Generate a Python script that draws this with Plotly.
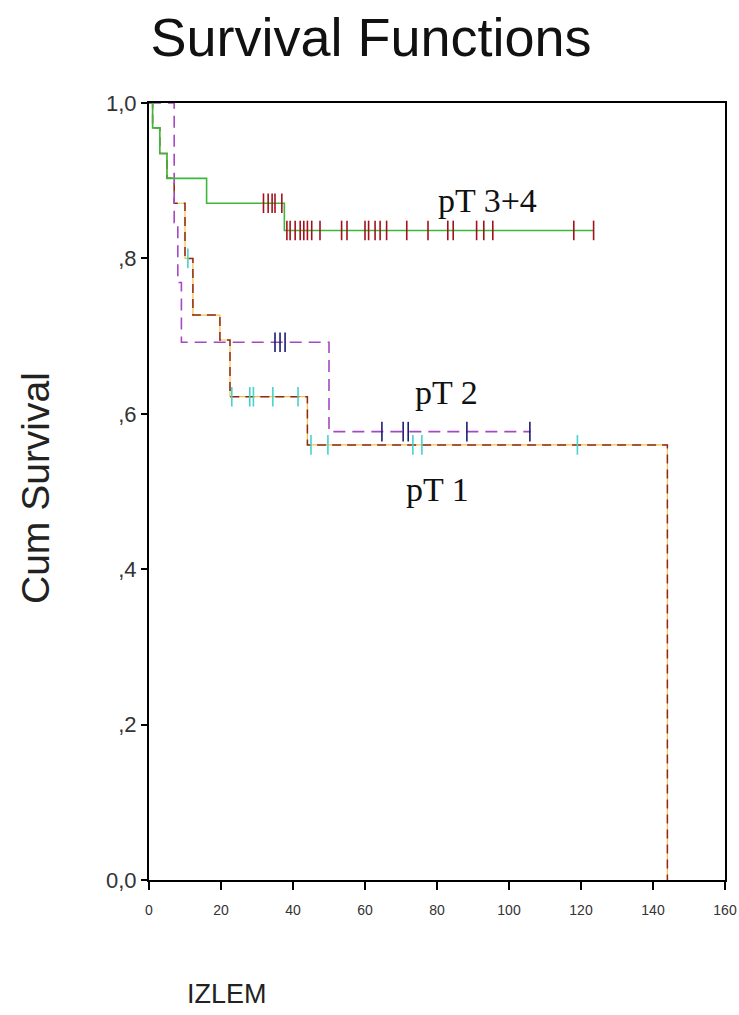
import plotly.graph_objects as go

# ---- data ----
# pT 3+4 (green solid, red censor marks)
t34_time = [0, 1, 3, 5, 16, 37.6, 123.5]
t34_surv = [1.0, 0.968, 0.935, 0.903, 0.871, 0.836, 0.836]
t34_cens_a_time = [31.8, 33.1, 34.2, 35.0, 36.9]
t34_cens_b_time = [38.3, 39.2, 40.6, 42, 43, 44, 45.2, 47.5, 53.5, 55, 60, 61,
                   62.8, 64.2, 66, 71.6, 77.5, 83, 84.5, 91, 93, 95.5, 118, 123.5]

# pT 2 (purple dashed, navy censor marks)
t2_time = [0, 7, 8, 9, 50, 106]
t2_surv = [1.0, 0.846, 0.769, 0.692, 0.577, 0.577]
t2_cens_a_time = [35, 36.4, 37.8]
t2_cens_b_time = [64.7, 70.6, 72, 88.3, 105.8]

# pT 1 (orange/brown dashed, cyan censor marks)
t1_time = [0, 1, 3, 5, 7, 10, 12.2, 19.7, 22.5, 44.0, 144, 144]
t1_surv = [1.0, 0.968, 0.935, 0.903, 0.871, 0.80, 0.727, 0.695, 0.622, 0.56, 0.0, 0.0]
t1_cens_a_time = [10.8]
t1_cens_b_time = [23, 28, 29, 34.4, 41.4]
t1_cens_c_time = [45.0, 49.7, 73.3, 75.8, 119]

y_tickvals = [0, 0.2, 0.4, 0.6, 0.8, 1.0]
y_ticktext = ["0,0", ",2", ",4", ",6", ",8", "1,0"]
x_tickvals = [0, 20, 40, 60, 80, 100, 120, 140, 160]

GREEN = "#3cb83c"
RED = "#a3121c"
PURPLE = "#a548c4"
NAVY = "#1d1d6e"
ORANGE = "#f0c24a"
BROWN = "#8e2a1a"
CYAN = "#45d3d0"

fig = go.Figure()

def cens(times, level, color):
    fig.add_trace(go.Scatter(
        x=times, y=[level] * len(times), mode="markers",
        marker=dict(symbol="line-ns", size=14, line=dict(width=1.6, color=color)),
        hoverinfo="skip", showlegend=False))

# pT 1
fig.add_trace(go.Scatter(x=t1_time, y=t1_surv, mode="lines", line_shape="hv",
                         line=dict(color=ORANGE, width=1.2), showlegend=False))
fig.add_trace(go.Scatter(x=t1_time, y=t1_surv, mode="lines", line_shape="hv",
                         line=dict(color=BROWN, width=1.5, dash="9px,6px"), showlegend=False))
# pT 2
fig.add_trace(go.Scatter(x=t2_time, y=t2_surv, mode="lines", line_shape="hv",
                         line=dict(color=PURPLE, width=1.6, dash="12px,7px"), showlegend=False))
# pT 3+4
fig.add_trace(go.Scatter(x=t34_time, y=t34_surv, mode="lines", line_shape="hv",
                         line=dict(color=GREEN, width=1.6), showlegend=False))

cens(t1_cens_a_time, t1_surv[5], CYAN)
cens(t1_cens_b_time, t1_surv[8], CYAN)
cens(t1_cens_c_time, t1_surv[9], CYAN)
cens(t2_cens_a_time, t2_surv[3], NAVY)
cens(t2_cens_b_time, t2_surv[4], NAVY)
cens(t34_cens_a_time, t34_surv[4], RED)
cens(t34_cens_b_time, t34_surv[5], RED)

serif = dict(family="Liberation Serif, Times New Roman, serif", size=34, color="#111")
fig.add_annotation(x=93.9, y=0.875, text="pT 3+4", showarrow=False, font=serif)
fig.add_annotation(x=82.5, y=0.628, text="pT 2", showarrow=False, font=serif)
fig.add_annotation(x=80, y=0.502, text="pT 1", showarrow=False, font=serif)

sans = "Liberation Sans, Arial, sans-serif"
# plot area: x 149..725, y 103..880 (576 x 777 px)
fig.add_annotation(xref="paper", yref="paper", x=(35 - 149) / 576, y=(880 - 488) / 777,
                   text="Cum Survival", textangle=-90, showarrow=False,
                   xanchor="center", yanchor="middle",
                   font=dict(family=sans, size=39, color="#222"))
fig.add_annotation(xref="paper", yref="paper", x=(185 - 149) / 576, y=(880 - 994) / 777,
                   text="IZLEM", showarrow=False, xanchor="left", yanchor="middle",
                   font=dict(family=sans, size=27, color="#222"))

fig.update_layout(
    width=739, height=1015,
    margin=dict(l=149, r=14, t=103, b=135, autoexpand=False),
    paper_bgcolor="white", plot_bgcolor="white",
    title=dict(text="Survival Functions", x=371 / 739, xanchor="center",
               y=1 - 37 / 1015, yanchor="middle",
               font=dict(family=sans, size=54, color="#111")),
    showlegend=False,
)
fig.update_xaxes(range=[0, 160], tickvals=x_tickvals, showgrid=False, zeroline=False,
                 showline=True, mirror=True, linecolor="black", linewidth=2,
                 ticks="outside", ticklen=8, tickwidth=1.5, tickcolor="black",
                 ticklabelstandoff=8, automargin=False,
                 tickfont=dict(family="Liberation Sans Narrow, Liberation Sans, sans-serif",
                               size=14, color="#333"))
fig.update_yaxes(range=[0, 1], tickvals=y_tickvals, ticktext=y_ticktext, showgrid=False,
                 zeroline=False, showline=True, mirror=True, linecolor="black", linewidth=2,
                 ticks="outside", ticklen=6, tickwidth=1.5, tickcolor="black",
                 automargin=False,
                 tickfont=dict(family=sans, size=22, color="#333"))

fig.write_html("out.html", config={"displayModeBar": False},
               post_script="document.body.style.margin='0';document.body.style.overflow='hidden';")
